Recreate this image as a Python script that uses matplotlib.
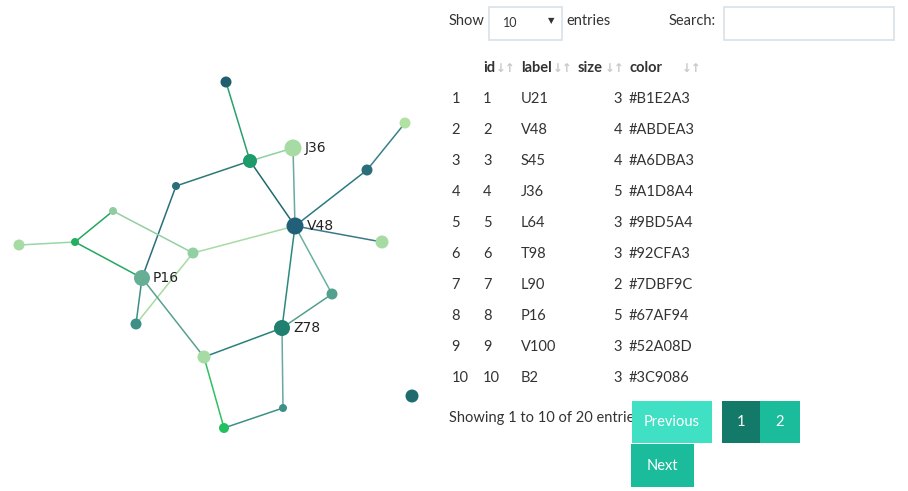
import matplotlib.pyplot as plt
from matplotlib.patches import Rectangle

plt.rcParams['font.family'] = ['Lato', 'DejaVu Sans']

# network nodes (pixel layout), colours, sizes, labels
node_x = [226, 250, 293, 176, 113, 295, 367, 405, 382, 19, 75, 193, 142, 136, 332, 282, 204, 283, 224, 412]
node_y = [82, 161, 148, 186, 211, 226, 170, 123, 242, 245, 242, 253, 278, 324, 294, 328, 357, 408, 428, 396]
node_r = [5.5, 7, 8.5, 4, 4, 8.5, 5.5, 5.5, 6.5, 5.5, 4, 5.5, 8, 5.5, 5.5, 8, 6.5, 4, 5, 6.5]
node_c = ['#1f5f6e', '#1f9a6a', '#a6dba3', '#2a6e7a', '#8fcc9f', '#22607a', '#2a6e7a', '#b1e2a3',
          '#a6dba3', '#a6dba3', '#22b060', '#92cfa3', '#67af94', '#3c9086', '#52a08d', '#1f8070',
          '#a6dba3', '#3c9086', '#22c060', '#1f6b6e']
node_lab = ['', '', 'J36', '', '', 'V48', '', '', '', '', '', '', 'P16', '', '', 'Z78', '', '', '', '']
edges = [(0, 1, '#2aa070'), (1, 2, '#8fd0a0'), (1, 5, '#1f6b70'), (1, 3, '#2a7a78'), (2, 5, '#6aa8a0'),
         (3, 12, '#2a6e7a'), (5, 6, '#2a7a80'), (6, 7, '#3a8088'), (5, 8, '#3a7a88'), (5, 11, '#a6dba3'),
         (5, 15, '#2a8a80'), (5, 14, '#6ab0a0'), (11, 4, '#92cfa3'), (4, 10, '#22a860'), (10, 9, '#9ad6a6'),
         (10, 12, '#22a860'), (11, 13, '#a6dba3'), (12, 13, '#3c9086'), (12, 16, '#5aa090'),
         (15, 14, '#52a08d'), (15, 16, '#2a8078'), (15, 17, '#6aa8a0'), (16, 18, '#30c060'), (18, 17, '#3c9086')]

# table data
row_idx = [1, 2, 3, 4, 5, 6, 7, 8, 9, 10]
ids = [1, 2, 3, 4, 5, 6, 7, 8, 9, 10]
labels = ['U21', 'V48', 'S45', 'J36', 'L64', 'T98', 'L90', 'P16', 'V100', 'B2']
sizes = [3, 4, 4, 5, 3, 3, 2, 5, 3, 3]
colors = ['#B1E2A3', '#ABDEA3', '#A6DBA3', '#A1D8A4', '#9BD5A4', '#92CFA3', '#7DBF9C', '#67AF94', '#52A08D', '#3C9086']

fig = plt.figure(figsize=(9.08, 4.91), dpi=100)
ax = fig.add_axes([0, 0, 1, 1])
ax.set_xlim(0, 908)
ax.set_ylim(491, 0)
ax.axis('off')

for a, b, c in edges:
    ax.plot([node_x[a], node_x[b]], [node_y[a], node_y[b]], color=c, lw=1.1, zorder=1)
ax.scatter(node_x, node_y, s=[(r * 2 * 0.72) ** 2 for r in node_r], c=node_c, zorder=2, linewidths=0)
for x, y, r, t in zip(node_x, node_y, node_r, node_lab):
    if t:
        ax.text(x + r + 3, y, t, fontsize=10, va='center', color='#222222', family=['DejaVu Sans'], zorder=3)

tc = '#333333'
fs = 10.5
ax.text(449, 21, 'Show', fontsize=fs, va='center', color=tc)
ax.add_patch(Rectangle((489, 7), 73, 33, fill=False, ec='#d8e0e8', lw=1.2))
ax.text(503, 23, '10', fontsize=9, va='center', color=tc)
ax.text(551, 21, '▼', fontsize=6, va='center', ha='center', color=tc, family=['DejaVu Sans'])
ax.text(566, 21, 'entries', fontsize=fs, va='center', color=tc)
ax.text(669, 21, 'Search:', fontsize=fs, va='center', color=tc)
ax.add_patch(Rectangle((724, 7), 170, 33, fill=False, ec='#d8e0e8', lw=1.2))

for x, t, arr_x in [(483, 'id', 496), (521, 'label', 553), (578, 'size', 605), (629, 'color', 682)]:
    ax.text(x, 68, t, fontsize=fs, va='center', color=tc, fontweight='bold')
    ax.text(arr_x, 68, '↓↑', fontsize=8.5, va='center', color='#c8c8c8', fontweight='bold',
            family=['DejaVu Sans'])

for k in range(len(ids)):
    y = 99 + k * 31
    ax.text(460, y, str(row_idx[k]), fontsize=fs, va='center', ha='right' if row_idx[k] < 10 else 'center', color=tc)
    ax.text(483, y, str(ids[k]), fontsize=fs, va='center', color=tc)
    ax.text(521, y, labels[k], fontsize=fs, va='center', color=tc)
    ax.text(622, y, str(sizes[k]), fontsize=fs, va='center', ha='right', color=tc)
    ax.text(629, y, colors[k], fontsize=fs, va='center', color=tc)

ax.text(449, 418, 'Showing 1 to 10 of 20 entries', fontsize=fs, va='center', color=tc, zorder=1)
btns = [(632, 401, 80, 42, '#40e0c4', 'Previous'), (722, 401, 38, 42, '#137a6a', '1'),
        (760, 401, 40, 42, '#1abc9c', '2'), (631, 444, 63, 43, '#1abc9c', 'Next')]
for x, y, w, h, c, t in btns:
    ax.add_patch(Rectangle((x, y), w, h, fc=c, ec='none', zorder=4))
    ax.text(x + w / 2, y + h / 2, t, fontsize=fs, ha='center', va='center', color='white', zorder=5)

fig.savefig('out.png', dpi=100)
